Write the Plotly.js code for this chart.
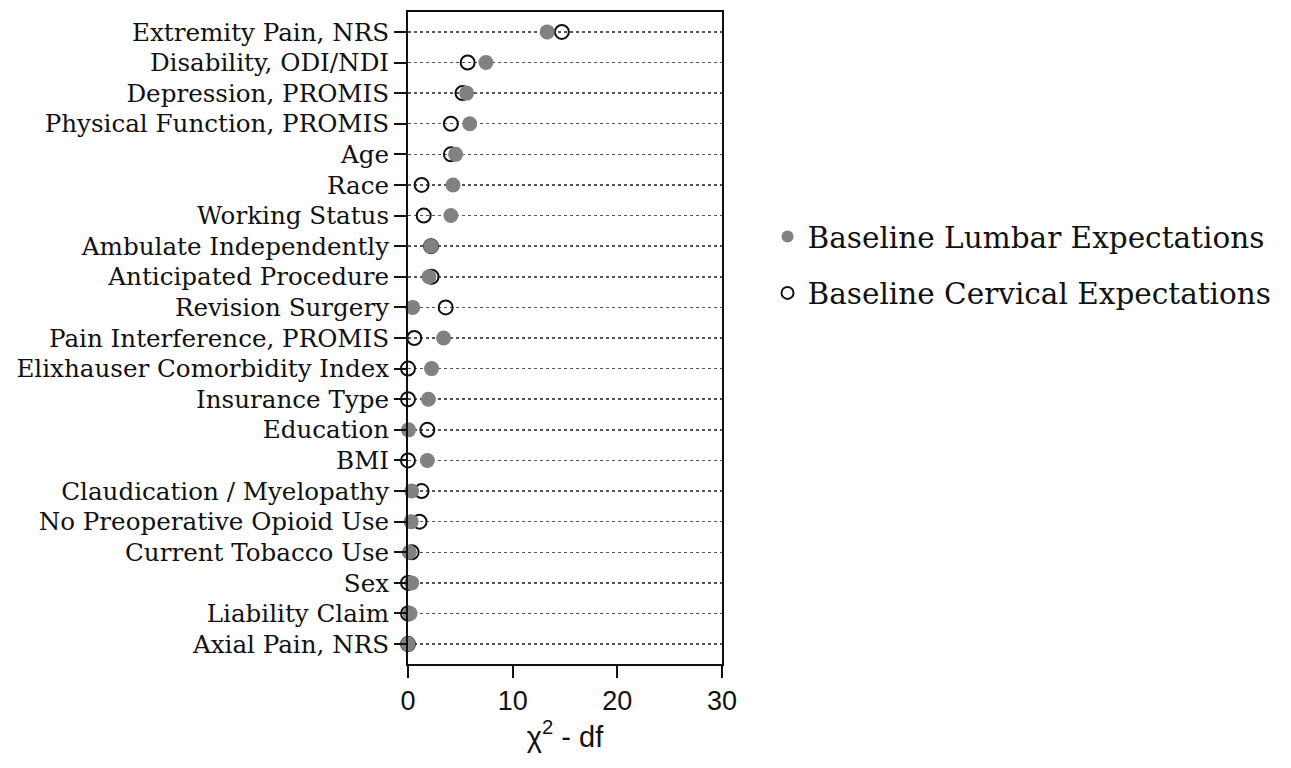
<!DOCTYPE html>
<html>
<head>
<meta charset="utf-8">
<script src="https://cdn.plot.ly/plotly-3.0.1.min.js"></script>
<style>html,body{margin:0;padding:0;background:#fff;}#chart{width:1291px;height:768px;}</style>
</head>
<body>
<div id="chart"></div>
<script>
const categories = [
  "Extremity Pain, NRS",
  "Disability, ODI/NDI",
  "Depression, PROMIS",
  "Physical Function, PROMIS",
  "Age",
  "Race",
  "Working Status",
  "Ambulate Independently",
  "Anticipated Procedure",
  "Revision Surgery",
  "Pain Interference, PROMIS",
  "Elixhauser Comorbidity Index",
  "Insurance Type",
  "Education",
  "BMI",
  "Claudication / Myelopathy",
  "No Preoperative Opioid Use",
  "Current Tobacco Use",
  "Sex",
  "Liability Claim",
  "Axial Pain, NRS"
];
const lumbarValues = [13.3, 7.45, 5.6, 5.9, 4.55, 4.3, 4.1, 2.2, 2.0, 0.45, 3.4, 2.25, 1.95, 0.05, 1.85, 0.35, 0.3, 0.13, 0.35, 0.2, 0.0];
const cervicalValues = [14.7, 5.7, 5.2, 4.1, 4.1, 1.3, 1.5, 2.2, 2.25, 3.6, 0.6, 0.0, 0.0, 1.85, 0.0, 1.3, 1.1, 0.35, 0.0, 0.0, 0.0];
const seriesNames = ["Baseline Lumbar Expectations", "Baseline Cervical Expectations"];
const xTicks = [0, 10, 20, 30];

const serif = "DejaVu Serif, serif";
const sans = "Liberation Sans, Arial, sans-serif";

const traces = [
  {
    type: "scatter", mode: "markers", name: seriesNames[1],
    x: cervicalValues, y: categories, cliponaxis: false,
    legendgroup: "c", legendrank: 2,
    marker: {symbol: "circle-open", size: 14, color: "#111", line: {width: 2, color: "#111"}}
  },
  {
    type: "scatter", mode: "markers", name: seriesNames[0],
    x: lumbarValues, y: categories, cliponaxis: false,
    legendgroup: "l", legendrank: 1,
    marker: {symbol: "circle", size: 15, color: "#818181", line: {width: 0}}
  }
];

const layout = {
  width: 1291, height: 768,
  margin: {l: 408, r: 569, t: 12, b: 104},
  paper_bgcolor: "#fff", plot_bgcolor: "#fff",
  showlegend: true,
  legend: {
    x: 1.145, xanchor: "left", y: 0.695, yanchor: "top",
    font: {family: serif, size: 29.5, color: "#111"},
    traceorder: "grouped", tracegroupgap: 15, itemsizing: "constant",
    bgcolor: "rgba(0,0,0,0)", borderwidth: 0
  },
  xaxis: {
    range: [0, 30], tickvals: xTicks, ticktext: xTicks.map(String),
    showgrid: false, zeroline: false,
    showline: true, linecolor: "#111", linewidth: 2, mirror: true,
    ticks: "outside", ticklen: 12, tickwidth: 2, tickcolor: "#111",
    tickfont: {family: sans, size: 27, color: "#111"},
    title: {text: "χ<sup>2</sup> - df", font: {family: sans, size: 29, color: "#111"}, standoff: 10}
  },
  yaxis: {
    type: "category", categoryorder: "array", categoryarray: categories,
    range: [20.65, -0.65],
    showgrid: true, gridcolor: "#555", gridwidth: 1.5, griddash: "dot",
    zeroline: false,
    showline: true, linecolor: "#111", linewidth: 2, mirror: true,
    ticks: "outside", ticklen: 12, tickwidth: 2, tickcolor: "#111",
    tickfont: {family: serif, size: 24.6, color: "#111"}
  }
};

Plotly.newPlot("chart", traces, layout, {displayModeBar: false, staticPlot: true});
</script>
</body>
</html>
